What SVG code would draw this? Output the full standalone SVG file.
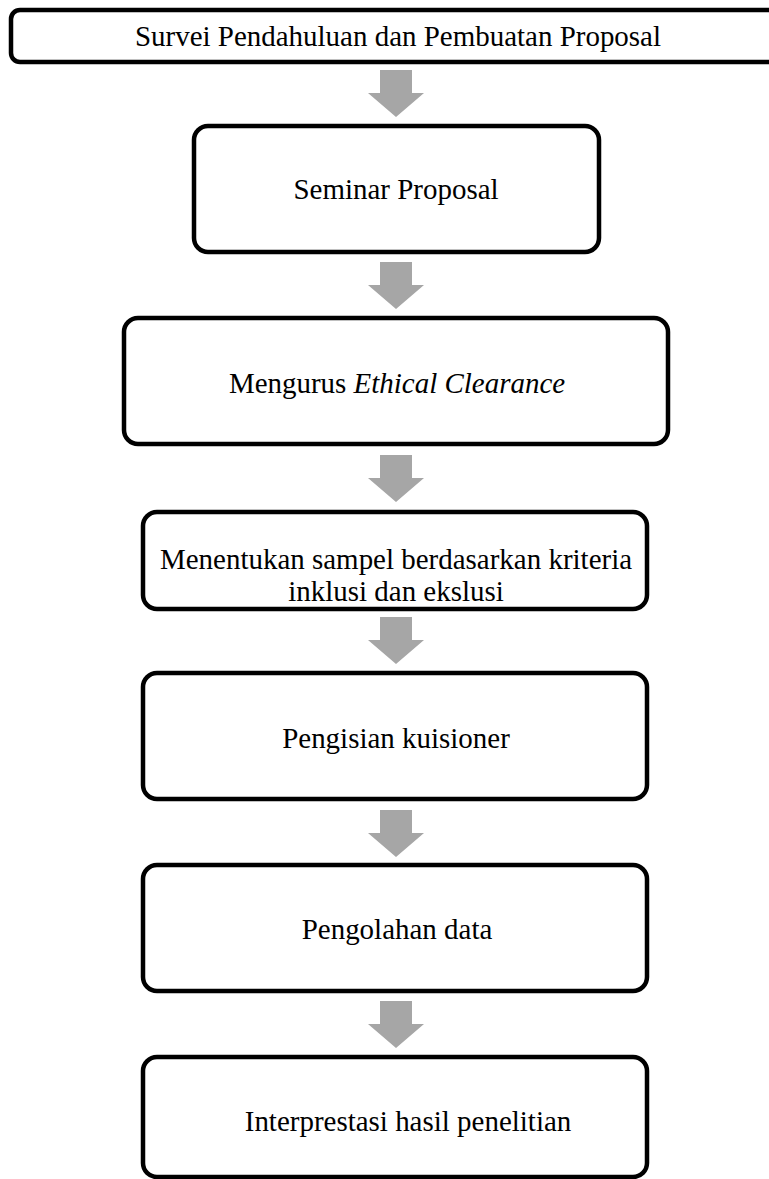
<svg xmlns="http://www.w3.org/2000/svg" width="769" height="1179" viewBox="0 0 769 1179">
<style>
.box{fill:#ffffff;stroke:#000000;stroke-width:4.5}
.t{font-family:"Liberation Serif","Times New Roman",serif;font-size:30.5px;fill:#000000;text-anchor:middle}
.arr{fill:#a6a6a6}
</style>
<defs>
<path id="arrow" class="arr" d="M-16,0 H16 V23 H28 L0,47 L-28,23 H-16 Z"/>
</defs>
<rect width="769" height="1179" fill="#ffffff"/>
<g id="connectors">
<use href="#arrow" x="396" y="70"/>
<use href="#arrow" x="396" y="262"/>
<use href="#arrow" x="396" y="455"/>
<use href="#arrow" x="396" y="617"/>
<use href="#arrow" x="396" y="810"/>
<use href="#arrow" x="396" y="1001"/>
</g>
<g id="n1">
<rect class="box" x="11" y="10" width="780" height="52" rx="9"/>
<text class="t" transform="translate(398,46) scale(0.95,1)">Survei Pendahuluan dan Pembuatan Proposal</text>
</g>
<g id="n2">
<rect class="box" x="194" y="126" width="405" height="126" rx="14"/>
<text class="t" transform="translate(396,199) scale(0.95,1)">Seminar Proposal</text>
</g>
<g id="n3">
<rect class="box" x="124" y="318" width="544" height="126" rx="14"/>
<text class="t" transform="translate(397,393) scale(0.95,1)">Mengurus <tspan font-style="italic">Ethical Clearance</tspan></text>
</g>
<g id="n4">
<rect class="box" x="143" y="512" width="504" height="97" rx="14"/>
<text class="t" transform="translate(396,569) scale(0.95,1)">Menentukan sampel berdasarkan kriteria</text>
<text class="t" transform="translate(396,601) scale(0.95,1)">inklusi dan ekslusi</text>
</g>
<g id="n5">
<rect class="box" x="143" y="673" width="504" height="126" rx="14"/>
<text class="t" transform="translate(396,748) scale(0.95,1)">Pengisian kuisioner</text>
</g>
<g id="n6">
<rect class="box" x="143" y="865" width="504" height="126" rx="14"/>
<text class="t" transform="translate(397,939) scale(0.95,1)">Pengolahan data</text>
</g>
<g id="n7">
<rect class="box" x="143" y="1057" width="504" height="120" rx="14"/>
<text class="t" transform="translate(408,1131) scale(0.95,1)">Interprestasi hasil penelitian</text>
</g>
</svg>
